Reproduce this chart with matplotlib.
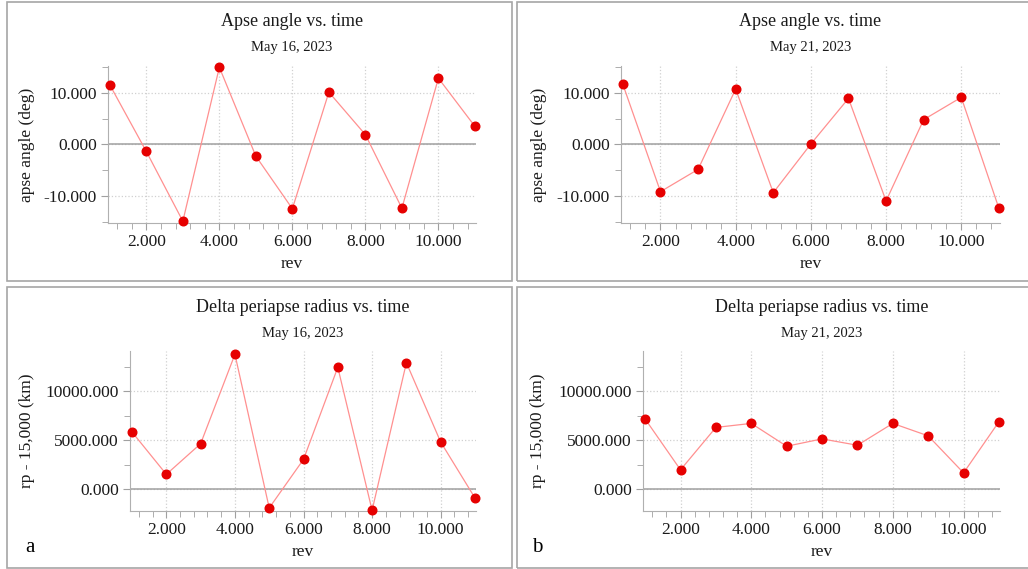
import numpy as np
from matplotlib import pyplot as plt
from matplotlib.patches import Rectangle
from matplotlib.ticker import MultipleLocator, FormatStrFormatter

plt.rcParams['font.family'] = ['Liberation Serif', 'DejaVu Serif']

# data
rev = [1, 2, 3, 4, 5, 6, 7, 8, 9, 10, 11]
apse_may16 = [11.5, -1.35, -14.8, 14.9, -2.25, -12.4, 10.1, 1.9, -12.3, 12.8, 3.5]
apse_may21 = [11.6, -9.1, -4.8, 10.7, -9.3, 0.1, 8.9, -10.9, 4.8, 9.1, -12.3]
drp_may16 = [5850, 1530, 4660, 13780, -1900, 3060, 12450, -2140, 12920, 4830, -880]
drp_may21 = [7180, 1990, 6320, 6730, 4400, 5150, 4500, 6730, 5460, 1680, 6900]

titles = ['Apse angle vs. time', 'Apse angle vs. time',
          'Delta periapse radius vs. time', 'Delta periapse radius vs. time']
dates = ['May 16, 2023', 'May 21, 2023', 'May 16, 2023', 'May 21, 2023']
ylabels = ['apse angle (deg)', 'apse angle (deg)', 'rp - 15,000 (km)', 'rp - 15,000 (km)']
panel_tags = ['a', 'b']

W, H = 1028, 569
fig = plt.figure(figsize=(W / 100, H / 100), dpi=100)


def box(l, t, r, b):
    return [l / W, 1 - b / H, (r - l) / W, (b - t) / H]


# panel frames
for (l, t, r, b) in [(7, 2, 512, 281), (517, 2, 1040, 281), (7, 287, 512, 568), (517, 287, 1040, 568)]:
    fig.add_artist(Rectangle((l / W, 1 - b / H), (r - l) / W, (b - t) / H,
                             transform=fig.transFigure, fill=False,
                             edgecolor='#a6a6a6', lw=1.2))

axes_px = [(108, 66, 476, 223), (621, 66, 1000, 223),
           (130, 351, 476, 511), (643, 351, 1000, 511)]
series = [apse_may16, apse_may21, drp_may16, drp_may21]
ylabel_x = [27, 539, 27, 538]

for i, (px, ys) in enumerate(zip(axes_px, series)):
    ax = fig.add_axes(box(*px))
    ax.plot(rev, ys, color='#ff9090', lw=0.9, zorder=3, clip_on=False)
    ax.plot(rev, ys, 'o', color='#e60000', ms=6.2, zorder=4, clip_on=False)
    ax.axhline(0, color='#a0a0a0', lw=1.1, zorder=2)

    if i < 2:
        ax.set_ylim(-15.15, 15.15)
        ax.yaxis.set_major_locator(MultipleLocator(10))
        ax.yaxis.set_minor_locator(MultipleLocator(5))
        ax.set_xlim(0.95, 11.03)
    else:
        ax.set_ylim(-2210, 14120)
        ax.yaxis.set_major_locator(MultipleLocator(5000))
        ax.yaxis.set_minor_locator(MultipleLocator(2500))
        ax.set_xlim(0.94, 11.03)
    ax.xaxis.set_major_locator(MultipleLocator(2))
    ax.xaxis.set_minor_locator(MultipleLocator(0.4))
    ax.xaxis.set_major_formatter(FormatStrFormatter('%.3f'))
    ax.yaxis.set_major_formatter(FormatStrFormatter('%.3f'))

    ax.grid(True, which='major', color='#d0d0d0', ls=':', lw=0.9, zorder=1)
    ax.tick_params(which='both', direction='out', color='#a0a0a0', labelsize=12.5,
                   labelcolor='#1a1a1a', pad=3)
    ax.tick_params(which='major', length=5)
    ax.tick_params(which='minor', length=4)
    for s in ['top', 'right']:
        ax.spines[s].set_visible(False)
    for s in ['left', 'bottom']:
        ax.spines[s].set_color('#b0b0b0')

    ax.set_xlabel('rev', fontsize=12.5, color='#1a1a1a', labelpad=4)

    l, t, r, b = px
    cx = (l + r) / 2 / W
    top = 21 if i < 2 else 307
    fig.text(cx, 1 - top / H, titles[i], ha='center', va='center', fontsize=13, color='#1a1a1a')
    fig.text(cx, 1 - (top + 27) / H, dates[i], ha='center', va='center', fontsize=10.5, color='#1a1a1a')
    fig.text(ylabel_x[i] / W, 1 - (t + b) / 2 / H, ylabels[i], rotation=90,
             ha='center', va='center', fontsize=12.5, color='#1a1a1a')

fig.text(30 / W, 1 - 548 / H, panel_tags[0], ha='center', va='center', fontsize=15)
fig.text(537 / W, 1 - 548 / H, panel_tags[1], ha='center', va='center', fontsize=15)

plt.savefig('out.png', dpi=100)
